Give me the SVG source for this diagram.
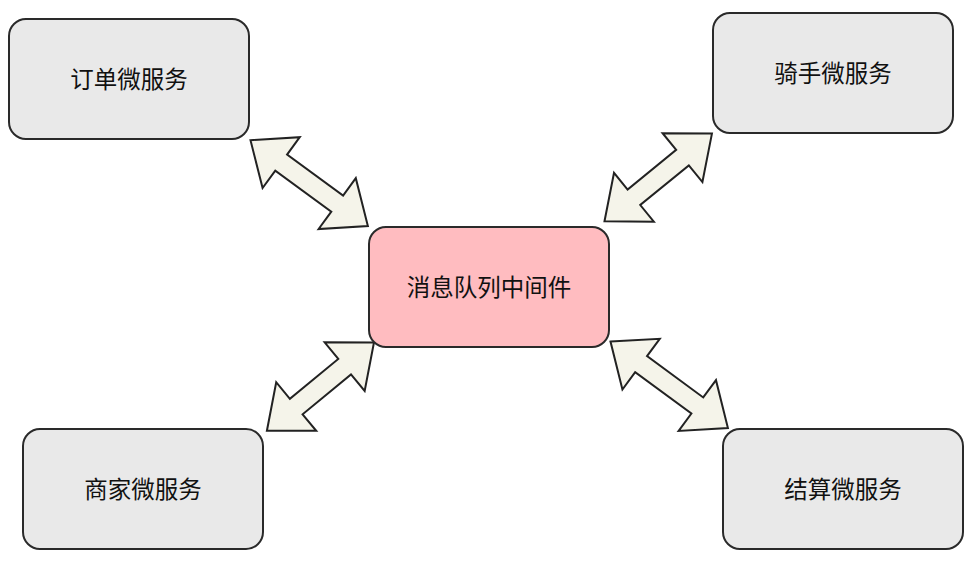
<svg xmlns="http://www.w3.org/2000/svg" width="976" height="562" viewBox="0 0 976 562">
<style>
.box{fill:#e9e9e9;stroke:#2a2a2a;stroke-width:2}
.mq{fill:#ffbcc0;stroke:#2a2a2a;stroke-width:2}
.lbl{font-family:"Noto Sans CJK SC","Noto Sans",sans-serif;font-size:23.5px;fill:#111;text-anchor:middle}
.arr{fill:#f5f4ea;stroke:#222;stroke-width:2;stroke-linejoin:miter}
</style>
<rect width="976" height="562" fill="#ffffff"/>
<g id="connectors">
<polygon class="arr" transform="translate(250.5,140.2) rotate(36.17)" points="0,0 38,-31.5 38,-10 107.4,-10 107.4,-31.5 145.4,0 107.4,31.5 107.4,10 38,10 38,31.5"/>
<polygon class="arr" transform="translate(604.5,221.3) rotate(-39.23)" points="0,0 38,-31.5 38,-10 100.7,-10 100.7,-31.5 138.7,0 100.7,31.5 100.7,10 38,10 38,31.5"/>
<polygon class="arr" transform="translate(266.9,430.7) rotate(-39.47)" points="0,0 38,-31.5 38,-10 100.7,-10 100.7,-31.5 138.7,0 100.7,31.5 100.7,10 38,10 38,31.5"/>
<polygon class="arr" transform="translate(610.5,341.6) rotate(36.36)" points="0,0 38,-31.5 38,-10 107.8,-10 107.8,-31.5 145.8,0 107.8,31.5 107.8,10 38,10 38,31.5"/>
</g>
<g id="node-order">
<rect class="box" x="9" y="19" width="240" height="120" rx="17" ry="17"/>
<text class="lbl" x="129" y="87.5">订单微服务</text>
</g>
<g id="node-rider">
<rect class="box" x="713" y="13" width="240" height="120" rx="17" ry="17"/>
<text class="lbl" x="833" y="81.5">骑手微服务</text>
</g>
<g id="node-merchant">
<rect class="box" x="23" y="429" width="240" height="120" rx="17" ry="17"/>
<text class="lbl" x="143" y="497.5">商家微服务</text>
</g>
<g id="node-settle">
<rect class="box" x="723" y="429" width="240" height="120" rx="17" ry="17"/>
<text class="lbl" x="843" y="497.5">结算微服务</text>
</g>
<g id="node-mq">
<rect class="mq" x="369" y="227" width="240" height="120" rx="17" ry="17"/>
<text class="lbl" x="489" y="295.5">消息队列中间件</text>
</g>
</svg>
